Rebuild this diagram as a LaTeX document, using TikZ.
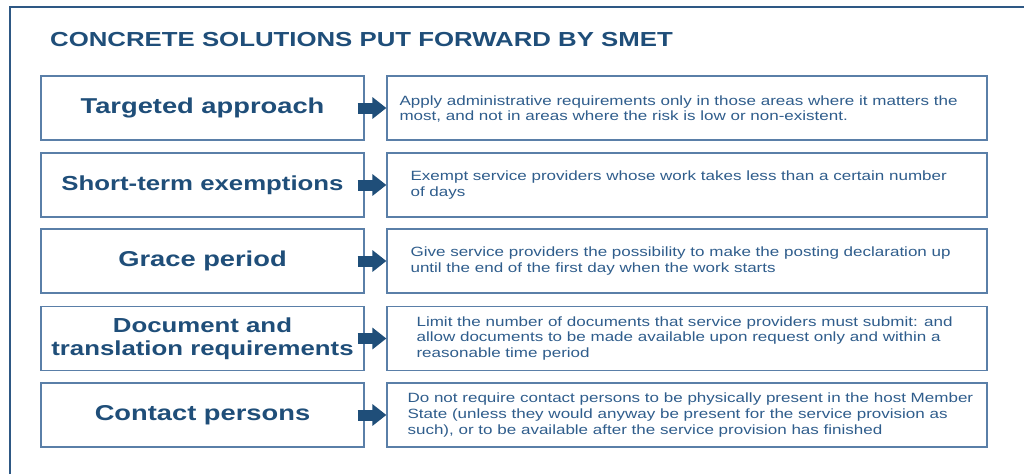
\documentclass[tikz,border=0pt]{standalone}
\usepackage{fontspec}
\setmainfont[FakeStretch=1.27]{Liberation Sans}
\usetikzlibrary{arrows.meta}
\definecolor{dkblue}{HTML}{1F4E79}
\definecolor{frameblue}{HTML}{2E5884}
\definecolor{boxblue}{HTML}{5A7FA8}
\definecolor{txtblue}{HTML}{2F5D8C}
\begin{document}
\begin{tikzpicture}[x=1pt,y=-1pt,
  lbox/.style={draw=boxblue, line width=1.3pt, minimum width=323pt, minimum height=64pt, inner sep=0pt, align=center, text=dkblue, font=\fontsize{21.5}{23}\selectfont\bfseries},
  lboxs/.style={lbox, font=\fontsize{20.3}{23}\selectfont\bfseries},
  rbox/.style={draw=boxblue, line width=1.3pt, minimum width=600pt, minimum height=64pt, inner sep=0pt},
  rtext/.style={anchor=west, align=left, inner sep=0pt, text=txtblue, font=\fontsize{13.4}{15.7}\selectfont},
  conn/.style={-{Triangle[length=14pt,width=21pt]}, line width=11pt, draw=dkblue}]
\useasboundingbox (0,0) rectangle (1024,474);
\fill[white] (0,0) rectangle (1024,474);
\draw[frameblue, line width=2.2pt] (10,474) -- (10,7) -- (1024,7);
\node[anchor=base west, inner sep=0pt, text=dkblue, font=\fontsize{20.3}{22}\selectfont\bfseries] (title) at (50,46) {CONCRETE SOLUTIONS PUT FORWARD BY SMET};

\node[lbox] (L1) at (202.5,108) {Targeted approach};
\node[lboxs] (L2) at (202.5,185) {Short-term exemptions};
\node[lbox] (L3) at (202.5,261) {Grace period};
\node[lboxs] (L4) at (202.5,338.5) {Document and\\translation requirements};
\node[lbox] (L5) at (202.5,415) {Contact persons};

\node[rbox] (R1) at (687,108) {};
\node[rbox] (R2) at (687,185) {};
\node[rbox] (R3) at (687,261) {};
\node[rbox] (R4) at (687,338.5) {};
\node[rbox] (R5) at (687,415) {};

\node[rtext] (T1) at ([xshift=13pt,yshift=-1pt]R1.west) {Apply administrative requirements only in those areas where it matters the\\most, and not in areas where the risk is low or non-existent.};
\node[rtext] (T2) at ([xshift=24pt]R2.west) {Exempt service providers whose work takes less than a certain number\\of days};
\node[rtext] (T3) at ([xshift=24pt]R3.west) {Give service providers the possibility to make the posting declaration up\\until the end of the first day when the work starts};
\node[rtext] (T4) at ([xshift=30pt]R4.west) {Limit the number of documents that service providers must submit: and\\allow documents to be made available upon request only and within a\\reasonable time period};
\node[rtext] (T5) at ([xshift=21pt]R5.west) {Do not require contact persons to be physically present in the host Member\\State (unless they would anyway be present for the service provision as\\such), or to be available after the service provision has finished};

\foreach \i in {1,...,5} {
  \draw[conn] ([xshift=-7pt]L\i.east) -- (R\i.west);
}
\end{tikzpicture}
\end{document}
